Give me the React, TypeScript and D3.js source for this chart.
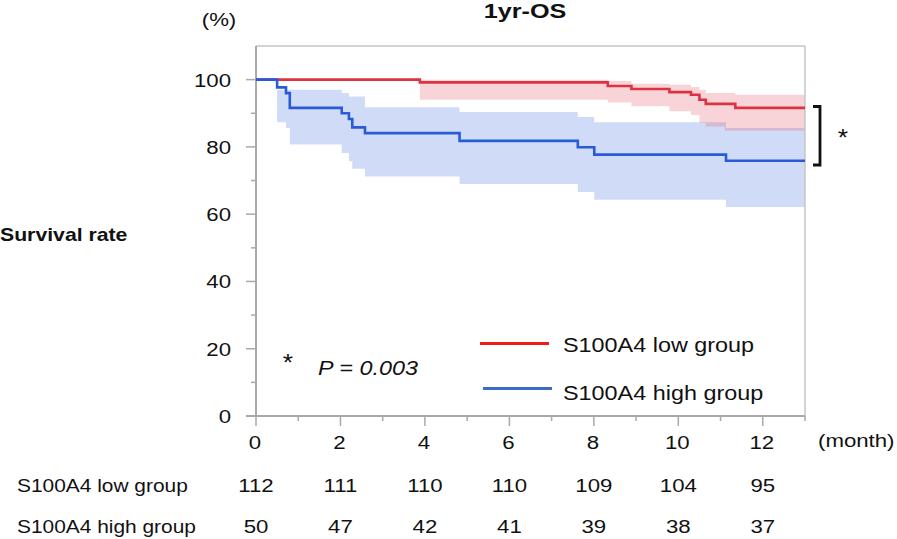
import React from "react";
import * as d3 from "d3";

// ---- data ----
const xTicks = [0, 2, 4, 6, 8, 10, 12];
const xMinorTicks = [1, 3, 5, 7, 9, 11, 13];
const yTicks = [0, 20, 40, 60, 80, 100];
const yMinorTicks = [10, 30, 50, 70, 90];

const lowTime = [0, 3.88, 8.33, 8.89, 9.79, 10.3, 10.5, 10.65, 11.1, 11.35, 13];
const lowSurv = [100, 99.2, 98.1, 97.2, 96.3, 95.5, 94.0, 92.8, 92.8, 91.6, 91.6];
const lowLower = [100, 94.0, 93.2, 92.1, 90.6, 89.5, 87.1, 86.1, 84.8, 84.8, 84.8];
const lowUpper = [100, 100, 99.6, 98.8, 98.5, 97.8, 97.0, 96.0, 96.0, 95.5, 95.5];

const highTime = [0, 0.5, 0.71, 0.8, 2.03, 2.2, 2.28, 2.58, 4.82, 7.62, 8.01, 11.13, 13];
const highSurv = [100, 97.7, 96.0, 91.6, 90.0, 88.3, 85.8, 84.1, 81.8, 79.9, 77.7, 75.9, 75.9];
const highLower = [100, 87.3, 85.6, 80.7, 78.2, 75.7, 73.5, 71.2, 69.0, 66.6, 64.3, 62.1, 62.1];
const highUpper = [100, 97.0, 97.0, 97.0, 96.0, 95.0, 95.0, 91.8, 90.4, 88.9, 87.3, 85.6, 85.6];

const lowAtRisk = [112, 111, 110, 110, 109, 104, 95];
const highAtRisk = [50, 47, 42, 41, 39, 38, 37];

const groupNames = ["S100A4 low group", "S100A4 high group"];

// ---- layout ----
const W = 897;
const H = 539;
const SX = 1.17;
const FONT = "'Liberation Sans', Arial, sans-serif";
const AXIS = "#a9a9a9";

const x = d3.scaleLinear().domain([0, 13]).range([256, 805]);
const y = d3.scaleLinear().domain([0, 110]).range([416, 46]);

type Row = { t: number; s: number; lo: number; hi: number };
const mk = (t: number[], s: number[], lo: number[], hi: number[]): Row[] =>
  t.map((tt, i) => ({ t: tt, s: s[i], lo: lo[i], hi: hi[i] }));

const lowRows = mk(lowTime, lowSurv, lowLower, lowUpper);
const highRows = mk(highTime, highSurv, highLower, highUpper);

const line = d3
  .line<Row>()
  .x((d) => x(d.t))
  .y((d) => y(d.s))
  .curve(d3.curveStepAfter);
const area = d3
  .area<Row>()
  .x((d) => x(d.t))
  .y0((d) => y(d.lo))
  .y1((d) => y(d.hi))
  .curve(d3.curveStepAfter);

function T(props: {
  x: number;
  y: number;
  anchor?: string;
  size?: number;
  weight?: string;
  italic?: boolean;
  sx?: number;
  children: React.ReactNode;
}) {
  const { anchor = "start", size = 19, weight = "normal", italic = false, sx = SX } = props;
  return (
    <text
      transform={`translate(${props.x},${props.y}) scale(${sx},1)`}
      textAnchor={anchor}
      fontSize={size}
      fontWeight={weight}
      fontStyle={italic ? "italic" : "normal"}
      fontFamily={FONT}
      fill="#111"
    >
      {props.children}
    </text>
  );
}

export default function App() {
  return (
    <svg
      width={W}
      height={H}
      viewBox={`0 0 ${W} ${H}`}
      style={{ position: "absolute", left: 0, top: 0, background: "#fff" }}
    >
      {/* bands */}
      <path d={area(highRows) || ""} fill="rgb(100,140,230)" fillOpacity={0.3} />
      <path d={area(lowRows) || ""} fill="rgb(230,100,120)" fillOpacity={0.28} />

      {/* frame */}
      <line x1={x(0)} x2={x(13)} y1={y(110)} y2={y(110)} stroke="#c6c6c6" strokeWidth={1.5} />
      <line x1={x(13)} x2={x(13)} y1={y(110)} y2={y(0)} stroke="#c6c6c6" strokeWidth={1.5} />

      {/* y axis */}
      <line x1={x(0)} x2={x(0)} y1={y(110)} y2={y(0)} stroke={AXIS} strokeWidth={2} />
      {yTicks.map((v) => (
        <g key={"yt" + v}>
          <line x1={x(0) - 10} x2={x(0)} y1={y(v)} y2={y(v)} stroke={AXIS} strokeWidth={1.5} />
          <T x={231} y={y(v) + 7} anchor="end">
            {v}
          </T>
        </g>
      ))}
      {yMinorTicks.map((v) => (
        <line key={"ym" + v} x1={x(0) - 5} x2={x(0)} y1={y(v)} y2={y(v)} stroke={AXIS} strokeWidth={1.5} />
      ))}

      {/* x axis */}
      <line x1={x(0) - 10} x2={x(13)} y1={y(0)} y2={y(0)} stroke={AXIS} strokeWidth={2} />
      {xTicks.map((v) => (
        <g key={"xt" + v}>
          <line x1={x(v)} x2={x(v)} y1={y(0)} y2={y(0) + 10} stroke={AXIS} strokeWidth={1.5} />
          <T x={x(v) - 1} y={449} anchor="middle">
            {v}
          </T>
        </g>
      ))}
      {xMinorTicks.map((v) => (
        <line key={"xm" + v} x1={x(v)} x2={x(v)} y1={y(0)} y2={y(0) + 5} stroke={AXIS} strokeWidth={1.5} />
      ))}

      {/* curves */}
      <path d={line(lowRows) || ""} fill="none" stroke="#dc3241" strokeWidth={2.6} />
      <path d={line(highRows) || ""} fill="none" stroke="#2a5ad7" strokeWidth={2.6} />

      {/* titles */}
      <T x={525} y={18} anchor="middle" size={21} weight="bold" sx={1.2}>
        1yr-OS
      </T>
      <T x={219} y={26} anchor="middle" size={19}>
        (%)
      </T>
      <T x={0} y={241} size={18} weight="bold" sx={1.18}>
        Survival rate
      </T>
      <T x={818} y={447} size={19}>
        (month)
      </T>

      {/* legend */}
      <line x1={480} x2={549} y1={343.5} y2={343.5} stroke="#f41a1a" strokeWidth={3} />
      <line x1={483} x2={552} y1={388.5} y2={388.5} stroke="#3c6cc8" strokeWidth={3} />
      <T x={563} y={352} size={20}>
        {groupNames[0]}
      </T>
      <T x={563} y={400} size={20}>
        {groupNames[1]}
      </T>

      {/* p-value */}
      <T x={288} y={371} anchor="middle" size={24} sx={1.1}>
        *
      </T>
      <T x={318} y={375} size={20} italic>
        P = 0.003
      </T>

      {/* bracket */}
      <path d="M813,106.5 H820 V165 H813" fill="none" stroke="#111" strokeWidth={2.8} />
      <T x={843} y={146} anchor="middle" size={24} sx={1.1}>
        *
      </T>

      {/* at-risk table */}
      <T x={17} y={492} size={19} sx={1.1}>
        {groupNames[0]}
      </T>
      <T x={17} y={533} size={19} sx={1.1}>
        {groupNames[1]}
      </T>
      {lowAtRisk.map((v, i) => (
        <T key={"lr" + i} x={x(xTicks[i])} y={492} anchor="middle">
          {v}
        </T>
      ))}
      {highAtRisk.map((v, i) => (
        <T key={"hr" + i} x={x(xTicks[i])} y={533} anchor="middle">
          {v}
        </T>
      ))}
    </svg>
  );
}
